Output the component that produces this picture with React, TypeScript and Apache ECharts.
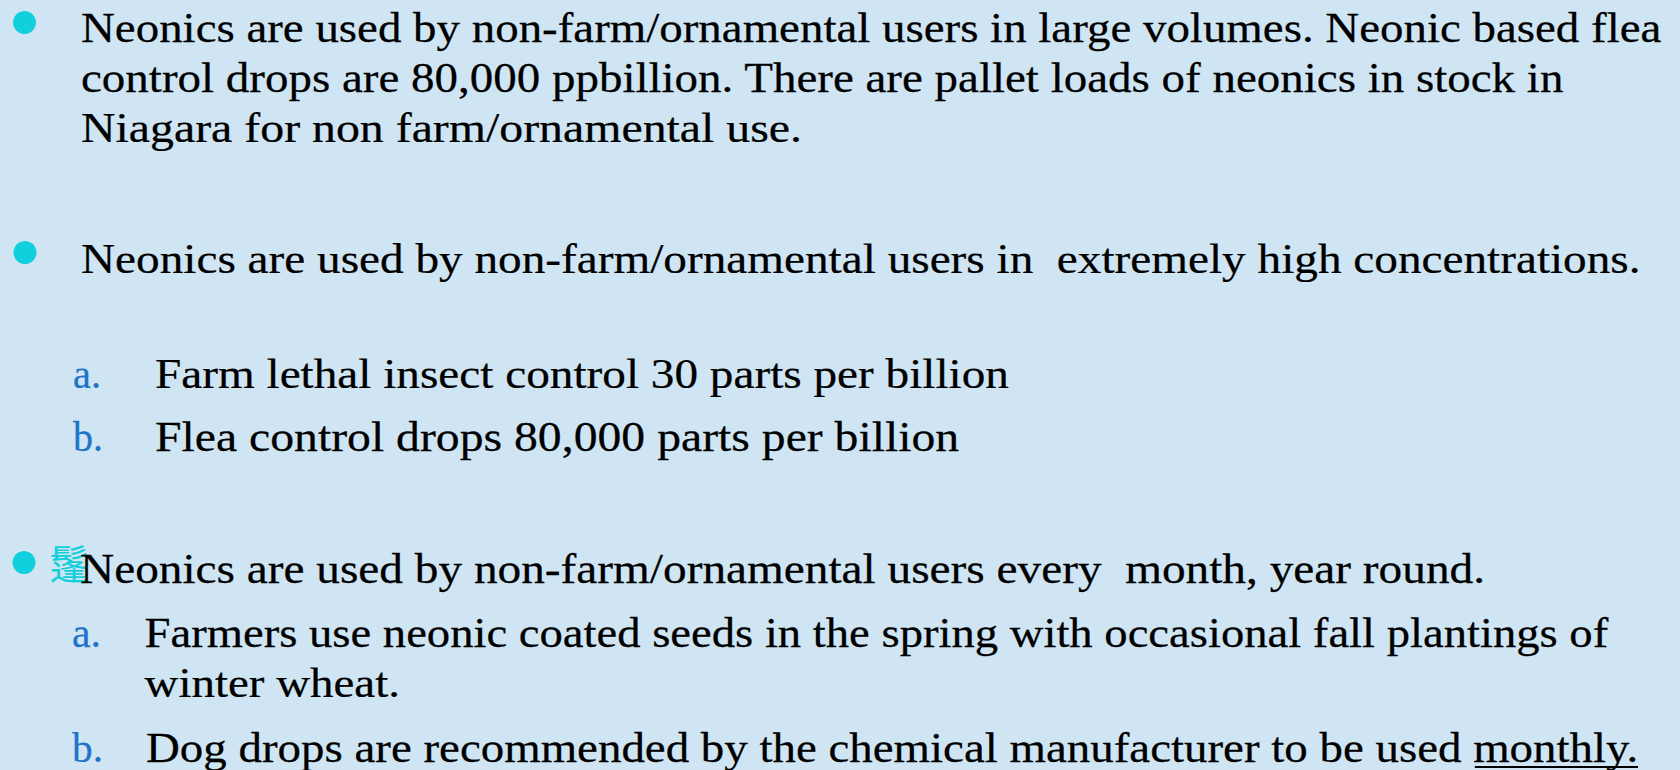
import React, { useEffect, useRef } from "react";
import * as echarts from "echarts";

// ---- Slide content (text only) ----
const point1Lines: string[] = [
  "Neonics are used by non-farm/ornamental users in large volumes. Neonic based flea",
  "control drops are 80,000 ppbillion. There are pallet loads of neonics in stock in",
  "Niagara for non farm/ornamental use.",
];
const point2Lines: string[] = [
  "Neonics are used by non-farm/ornamental users in  extremely high concentrations.",
];
const point2Subs: string[] = [
  "Farm lethal insect control 30 parts per billion",
  "Flea control drops 80,000 parts per billion",
];
const point3Lines: string[] = [
  "Neonics are used by non-farm/ornamental users every  month, year round.",
];
const point3SubA: string[] = [
  "Farmers use neonic coated seeds in the spring with occasional fall plantings of",
  "winter wheat.",
];
const point3SubBPlain = "Dog drops are recommended by the chemical manufacturer to be used ";
const point3SubBUnderlined = "monthly.";
const subMarkers: string[] = ["a.", "b."];
const strayGlyph = "鬔";

// ---- Styles ----
const BG = "#cfe5f3";
const BULLET = "#12cfdd";
const MARKER = "#1f74c9";
const TEXT = "#000000";
const SERIF = "'Liberation Serif'";
const CJK = "'Noto Sans CJK SC'";
const FS = 42;
const CENTRAL = 0.3375; // central-baseline offset above alphabetic baseline (em)

export default function App() {
  const ref = useRef<HTMLDivElement>(null);

  useEffect(() => {
    document.body.style.margin = "0";
    const chart = echarts.init(ref.current!, undefined, { renderer: "svg" });
    const canvas = document.createElement("canvas");
    const ctx = canvas.getContext("2d")!;
    const measure = (t: string, fs: number, fam: string) => {
      ctx.font = `${fs}px ${fam}`;
      return ctx.measureText(t).width;
    };

    const elements: any[] = [];
    const addText = (
      text: string,
      x: number,
      baseline: number,
      right: number | null,
      color: string,
      fs = FS,
      fam = SERIF
    ) => {
      const w = measure(text, fs, fam);
      const sx = right ? (right - x) / w : 1;
      elements.push({
        type: "text",
        x,
        y: baseline - CENTRAL * fs,
        scaleX: sx,
        silent: true,
        style: {
          text,
          fill: color,
          stroke: color,
          lineWidth: 0.25,
          fontSize: fs,
          fontFamily: fam,
          align: "left",
          verticalAlign: "middle",
        },
      });
      return sx;
    };
    const addBullet = (cx: number, cy: number) => {
      elements.push({
        type: "circle",
        silent: true,
        shape: { cx, cy, r: 11.5 },
        style: { fill: BULLET },
      });
    };

    // Point 1
    addBullet(24.5, 22.5);
    addText(point1Lines[0], 81, 42, 1662, TEXT);
    addText(point1Lines[1], 81, 92, 1565, TEXT);
    addText(point1Lines[2], 81, 142, 802, TEXT);

    // Point 2
    addBullet(25, 252.5);
    addText(point2Lines[0], 81, 273, 1641, TEXT);
    addText(subMarkers[0], 73, 388, 101, MARKER);
    addText(point2Subs[0], 155, 388, 1009, TEXT);
    addText(subMarkers[1], 73, 451, 103, MARKER);
    addText(point2Subs[1], 155, 451, 959, TEXT);

    // Point 3
    addBullet(24, 562.5);
    elements.push({
      type: "text",
      x: 49,
      y: 562,
      silent: true,
      style: {
        text: strayGlyph,
        fill: BULLET,
        fontSize: 40,
        fontFamily: CJK,
        align: "left",
        verticalAlign: "middle",
      },
    });
    addText(point3Lines[0], 80, 583, 1485, TEXT);
    addText(subMarkers[0], 72, 647, 101, MARKER);
    addText(point3SubA[0], 144.5, 647, 1609, TEXT);
    addText(point3SubA[1], 144.5, 697, 400, TEXT);
    addText(subMarkers[1], 72, 762, 103, MARKER);
    const full = point3SubBPlain + point3SubBUnderlined;
    const dogX = 146;
    const sx = addText(full, dogX, 762, 1639, TEXT);
    const uStart = dogX + measure(point3SubBPlain, FS, SERIF) * sx + 1;
    const uEnd = dogX + measure(full, FS, SERIF) * sx - 1;
    elements.push({
      type: "line",
      silent: true,
      shape: { x1: uStart, y1: 767, x2: uEnd, y2: 767 },
      style: { stroke: TEXT, lineWidth: 1.8 },
    });

    chart.setOption({
      animation: false,
      backgroundColor: BG,
      graphic: { elements },
    });
    return () => chart.dispose();
  }, []);

  return (
    <div
      ref={ref}
      style={{ position: "absolute", left: 0, top: 0, width: 1680, height: 770 }}
    />
  );
}
